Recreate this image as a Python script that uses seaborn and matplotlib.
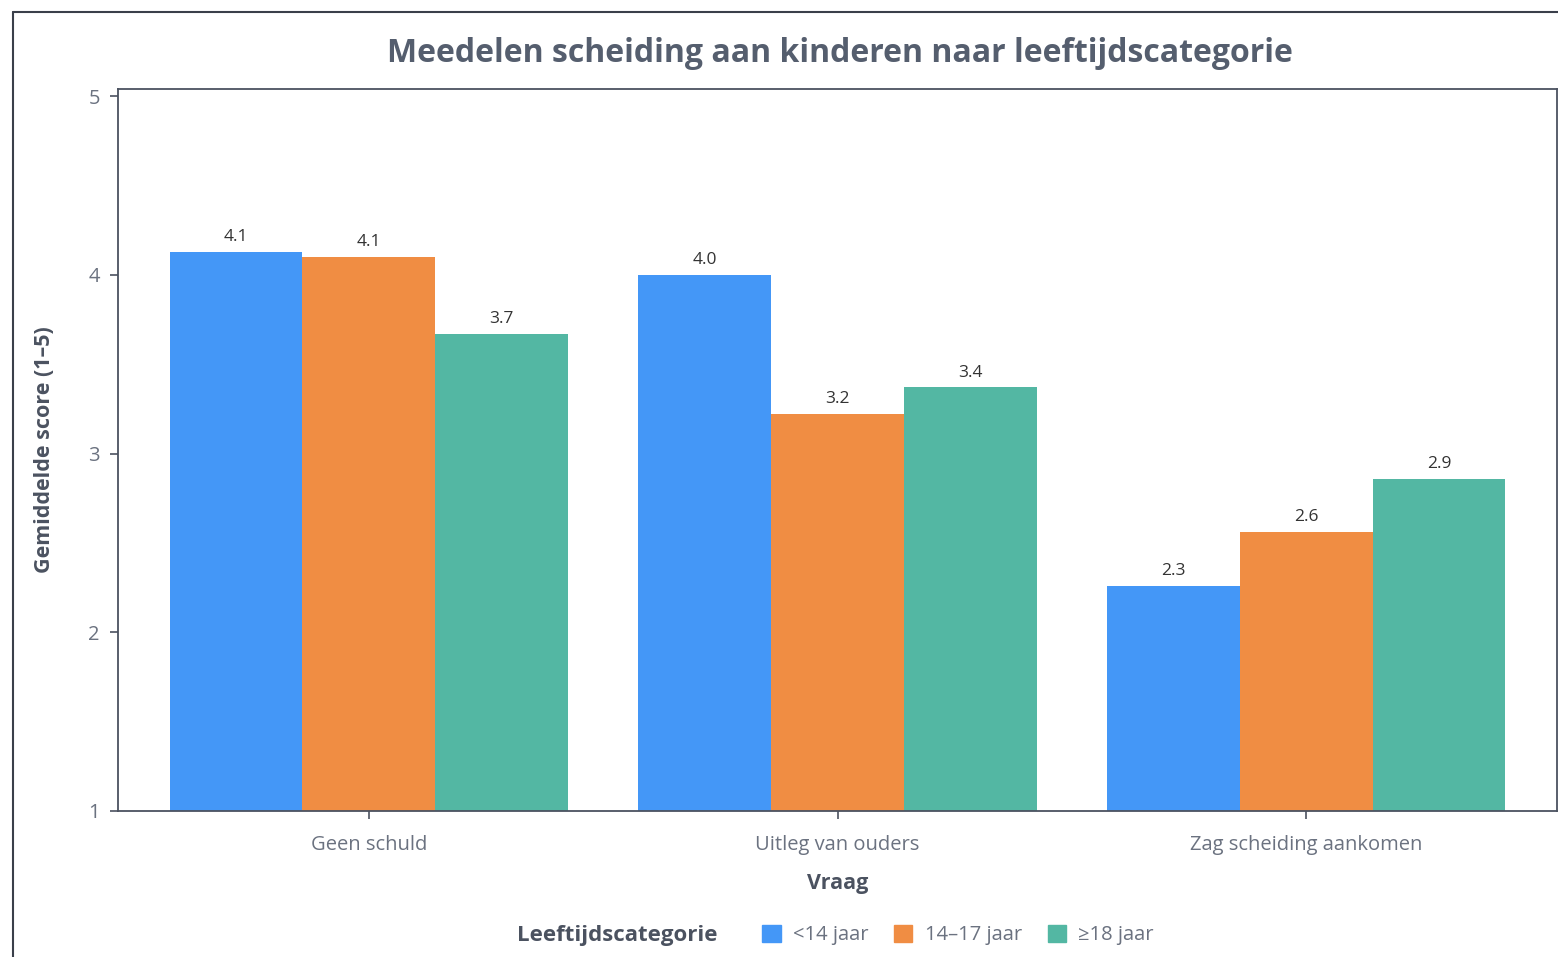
import pandas as pd
import matplotlib.pyplot as plt
import seaborn as sns
from matplotlib.patches import Patch
from matplotlib.lines import Line2D

# data
vragen = ["Geen schuld", "Uitleg van ouders", "Zag scheiding aankomen"]
groepen = ["<14 jaar", "14–17 jaar", "≥18 jaar"]
score_jong = [4.13, 4.00, 2.26]
score_midden = [4.10, 3.22, 2.56]
score_oud = [3.67, 3.37, 2.86]
kleuren = ["#4497F7", "#F08D43", "#53B7A3"]

rows = []
for i, v in enumerate(vragen):
    for g, s in zip(groepen, [score_jong, score_midden, score_oud]):
        rows.append({"Vraag": v, "Leeftijdscategorie": g, "score": s[i]})
df = pd.DataFrame(rows)

sns.set_theme(style="white")
plt.rcParams["font.family"] = ["Open Sans", "DejaVu Sans"]

tekst = "#6b7280"
donker = "#4b5260"

fig = plt.figure(figsize=(15.58, 9.57), dpi=100)
ax = fig.add_axes([118 / 1558, 1 - 811 / 957, (1557 - 118) / 1558, (811 - 89) / 957])

sns.barplot(data=df, x="Vraag", y="score", hue="Leeftijdscategorie",
            hue_order=groepen, palette=kleuren, width=0.85, saturation=1,
            linewidth=0, ax=ax, legend=False)

for c in ax.containers:
    ax.bar_label(c, fmt="%.1f", padding=5, fontsize=12.5, color="#333333")

ax.set_ylim(1, 5.04)
ax.set_xlim(-0.535, 2.535)
ax.set_yticks([1, 2, 3, 4, 5])
ax.tick_params(axis="both", which="both", direction="out", length=6, width=1.2,
               color=donker, labelcolor=tekst, labelsize=14.5, pad=7,
               bottom=True, left=True)
ax.tick_params(axis="x", pad=11)
for s in ax.spines.values():
    s.set_color(donker)
    s.set_linewidth(1.3)

ax.set_xlabel("Vraag", fontsize=15.5, fontweight="bold", color=donker, labelpad=13)
ax.set_ylabel("Gemiddelde score (1–5)", fontsize=15.5, fontweight="bold", color=donker, labelpad=24)

fig.text(840 / 1558, 1 - 54 / 957, "Meedelen scheiding aan kinderen naar leeftijdscategorie",
         ha="center", va="center", fontsize=23, fontweight="bold", color="#555e6e")

# figure frame (cropped on right and bottom)
fig.add_artist(Line2D([13 / 1558, 13 / 1558], [0, 1 - 12 / 957], transform=fig.transFigure,
                      color="#3a3f4a", linewidth=1.5))
fig.add_artist(Line2D([13 / 1558, 1], [1 - 12 / 957, 1 - 12 / 957], transform=fig.transFigure,
                      color="#3a3f4a", linewidth=1.5))

# legend
fig.text(617 / 1558, 1 - 935 / 957, "Leeftijdscategorie", ha="center", va="center",
         fontsize=16, fontweight="bold", color=donker)
handles = [Patch(facecolor=k, edgecolor=k) for k in kleuren]
fig.legend(handles, groepen, loc="center", bbox_to_anchor=(958 / 1558, 1 - 935 / 957),
           ncol=3, frameon=False, fontsize=14.5, handlelength=0.9, handleheight=0.9,
           handletextpad=0.6, columnspacing=1.3, labelcolor=tekst)

fig.savefig("out.png", dpi=100)
